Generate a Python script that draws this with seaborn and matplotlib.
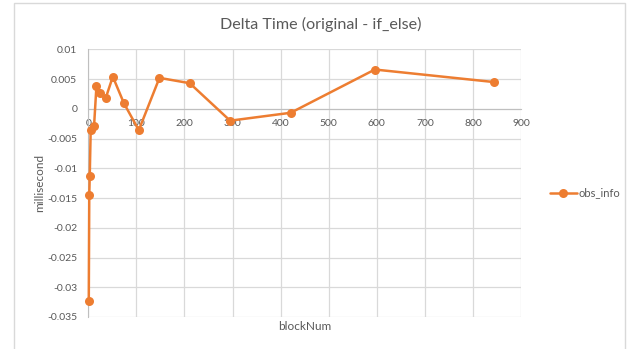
import matplotlib
matplotlib.use("Agg")
import matplotlib.pyplot as plt
from matplotlib.patches import Rectangle
import seaborn as sns
import pandas as pd

block_num = [1, 2, 3, 5, 12, 17, 24, 36, 51, 74, 105, 148, 211, 295, 421, 596, 843]
delta_ms = [-0.0323, -0.0145, -0.0113, -0.0035, -0.00285, 0.0039, 0.0026, 0.00175,
            0.0054, 0.00095, -0.0036, 0.0052, 0.0043, -0.0020, -0.00067, 0.0066, 0.0045]
series_name = "obs_info"
x_ticks = [0, 100, 200, 300, 400, 500, 600, 700, 800, 900]
y_ticks = [0.01, 0.005, 0, -0.005, -0.01, -0.015, -0.02, -0.025, -0.03, -0.035]
y_tick_labels = ["0.01", "0.005", "0", "-0.005", "-0.01", "-0.015", "-0.02",
                 "-0.025", "-0.03", "-0.035"]

sns.set_style("white")
plt.rcParams["font.family"] = ["Lato", "DejaVu Sans"]

TEXT = "#595959"
GRID = "#d9d9d9"
ORANGE = "#ED7D31"

df = pd.DataFrame({"blockNum": block_num, "millisecond": delta_ms})

fig = plt.figure(figsize=(6.29, 3.49), dpi=100)
ax = fig.add_axes([88.3 / 629, 1 - 317 / 349, (521 - 88.3) / 629, (317 - 49.3) / 349])

# outer chart frame
fig.patches.append(Rectangle((14 / 629, -0.05), (625 - 14) / 629, 1 - 3 / 349 + 0.05,
                             transform=fig.transFigure, fill=False,
                             edgecolor="#d9d9d9", linewidth=1.0))

sns.lineplot(data=df, x="blockNum", y="millisecond", ax=ax, color=ORANGE,
             linewidth=1.8, marker="o", markersize=6.5, markeredgewidth=0,
             label=series_name, sort=False)
for line in ax.lines:
    line.set_clip_on(False)
    line.set_zorder(5)

ax.set_xlim(0, 900)
ax.set_ylim(-0.035, 0.01)
ax.set_xticks(x_ticks)
ax.set_yticks(y_ticks)
ax.set_yticklabels(y_tick_labels)
ax.grid(True, color=GRID, linewidth=0.9)
ax.set_axisbelow(True)

for side in ["top", "right"]:
    ax.spines[side].set_visible(False)
ax.spines["bottom"].set_position(("data", 0))
ax.spines["bottom"].set_color("#bfbfbf")
ax.spines["left"].set_color("#bfbfbf")
ax.tick_params(axis="both", length=0, colors=TEXT, labelsize=7.5)
ax.tick_params(axis="x", pad=7)
ax.tick_params(axis="y", pad=8)

ax.set_xlabel("")
ax.set_ylabel("")
fig.text(40 / 629, 1 - 183 / 349, "millisecond", rotation=90, ha="center",
         va="center", color=TEXT, fontsize=8.5)
fig.text(305 / 629, 1 - 327 / 349, "blockNum", ha="center", va="center",
         color=TEXT, fontsize=8.5)
fig.text(321 / 629, 1 - 24 / 349, "Delta Time (original - if_else)", ha="center",
         va="center", color=TEXT, fontsize=11.6)

ax.get_legend().remove()
handles, labels = ax.get_legend_handles_labels()
fig.legend(handles, labels, loc="center left",
           bbox_to_anchor=(540 / 629, 1 - 193 / 349), frameon=False,
           fontsize=8, labelcolor=TEXT, handlelength=2.4, handletextpad=0.15)

fig.savefig("out.png", dpi=100, facecolor="white")
